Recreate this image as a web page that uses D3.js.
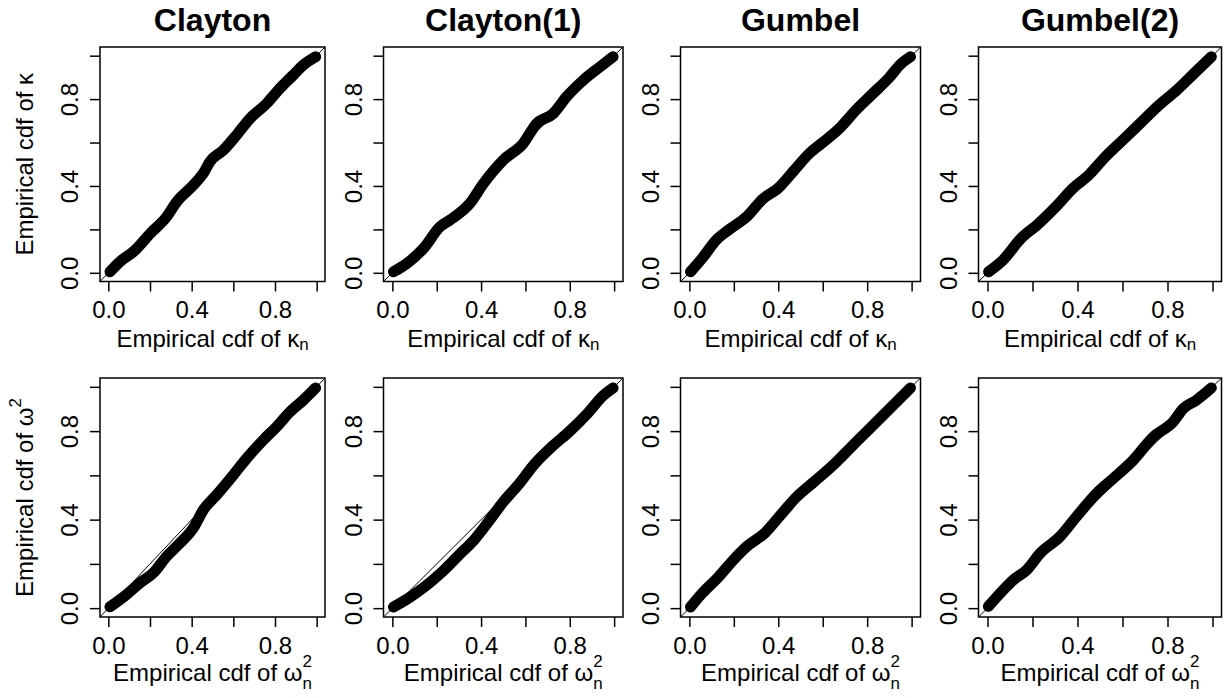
<!DOCTYPE html>
<meta charset="utf-8">
<style>
    body { margin: 0; background: #fff; }
    text { font-family: "Liberation Sans", Arial, sans-serif; fill: #000; }
    .box { fill: none; stroke: #000; stroke-width: 1.5; }
    .diag { stroke: #000; stroke-width: 1; }
    .ecdf { fill: none; stroke: #000; stroke-width: 11; stroke-linecap: round; stroke-linejoin: round; }
    .tick line { stroke: #000; stroke-width: 1.5; }
</style>
<body>
<script src="https://cdnjs.cloudflare.com/ajax/libs/d3/7.8.5/d3.min.js"></script>
<script>
    // column titles and tick values
    let titles = ["Clayton", "Clayton(1)", "Gumbel", "Gumbel(2)"];
    let tickValues = [0, 0.2, 0.4, 0.6, 0.8, 1.0];
    let tickLabels = ["0.0", "", "0.4", "", "0.8", ""];

    // ecdf curves, [x, y] pairs
    let claytonKappa = [[0.008, 0.005], [0.064, 0.058], [0.12, 0.097], [0.2, 0.18], [0.28, 0.258], [0.328, 0.327], [0.4, 0.396], [0.456, 0.458], [0.488, 0.512], [0.552, 0.565], [0.616, 0.635], [0.68, 0.711], [0.76, 0.78], [0.824, 0.85], [0.888, 0.911], [0.936, 0.957], [0.995, 0.995]];
    let clayton1Kappa = [[0.005, 0.005], [0.065, 0.043], [0.14, 0.112], [0.215, 0.212], [0.26, 0.243], [0.35, 0.32], [0.41, 0.41], [0.5, 0.519], [0.59, 0.596], [0.651, 0.688], [0.726, 0.734], [0.786, 0.811], [0.862, 0.888], [0.937, 0.949], [0.995, 0.995]];
    let gumbelKappa = [[0.005, 0.005], [0.06, 0.07], [0.12, 0.15], [0.18, 0.2], [0.26, 0.26], [0.33, 0.34], [0.4, 0.39], [0.47, 0.47], [0.54, 0.55], [0.6, 0.6], [0.68, 0.67], [0.75, 0.75], [0.82, 0.82], [0.9, 0.9], [0.95, 0.96], [0.995, 0.995]];
    let gumbel2Kappa = [[0.005, 0.005], [0.07, 0.06], [0.15, 0.16], [0.22, 0.22], [0.3, 0.3], [0.38, 0.39], [0.45, 0.45], [0.52, 0.53], [0.6, 0.61], [0.68, 0.69], [0.76, 0.77], [0.84, 0.84], [0.92, 0.92], [0.995, 0.995]];
    let claytonOmega = [[0.008, 0.006], [0.088, 0.062], [0.152, 0.114], [0.216, 0.159], [0.28, 0.234], [0.344, 0.294], [0.408, 0.362], [0.456, 0.444], [0.52, 0.512], [0.6, 0.602], [0.664, 0.677], [0.744, 0.76], [0.808, 0.82], [0.872, 0.887], [0.936, 0.94], [0.995, 0.995]];
    let clayton1Omega = [[0.005, 0.005], [0.08, 0.05], [0.15, 0.1], [0.22, 0.16], [0.3, 0.24], [0.37, 0.31], [0.44, 0.4], [0.5, 0.48], [0.57, 0.56], [0.64, 0.65], [0.72, 0.73], [0.8, 0.8], [0.88, 0.88], [0.95, 0.96], [0.995, 0.995]];
    let gumbelOmega = [[0.005, 0.005], [0.06, 0.07], [0.13, 0.14], [0.2, 0.22], [0.26, 0.28], [0.34, 0.34], [0.41, 0.42], [0.48, 0.5], [0.56, 0.57], [0.64, 0.64], [0.72, 0.72], [0.8, 0.8], [0.88, 0.88], [0.95, 0.95], [0.995, 0.995]];
    let gumbel2Omega = [[0.004, 0.008], [0.071, 0.083], [0.115, 0.128], [0.175, 0.173], [0.234, 0.248], [0.322, 0.323], [0.396, 0.414], [0.485, 0.519], [0.559, 0.586], [0.648, 0.669], [0.737, 0.774], [0.825, 0.842], [0.87, 0.902], [0.929, 0.94], [0.995, 0.995]];

    let curves = [
        [claytonKappa, clayton1Kappa, gumbelKappa, gumbel2Kappa],
        [claytonOmega, clayton1Omega, gumbelOmega, gumbel2Omega]
    ];

    // plot region boxes in pixels
    let colLeft = [100, 383.5, 680.5, 978.5],
        colRight = [325, 623, 920.5, 1221.5],
        rowTop = [47, 378],
        rowBottom = [281.5, 617],
        xTitleBase = [347, 681];

    let svg = d3.select("body").append("svg")
        .attr("width", 1225)
        .attr("height", 698);

    // x label with sub/superscripts
    function xLabel(sel, row) {
        let t = sel.append("text").attr("text-anchor", "middle").style("font-size", "24px");
        if (row == 0) {
            t.append("tspan").text("Empirical cdf of \u03BA");
            t.append("tspan").attr("dy", 3).style("font-size", "17px").text("n");
        } else {
            t.append("tspan").text("Empirical cdf of \u03C9");
            t.append("tspan").attr("dy", -14).style("font-size", "17px").text("2");
            t.append("tspan").attr("dx", -9.5).attr("dy", 22).style("font-size", "17px").text("n");
        }
        return t;
    }

    for (let r = 0; r < 2; r++) {
        for (let c = 0; c < 4; c++) {
            let x = d3.scaleLinear().domain([-0.04, 1.04]).range([colLeft[c], colRight[c]]);
            let y = d3.scaleLinear().domain([-0.04, 1.04]).range([rowBottom[r], rowTop[r]]);
            let g = svg.append("g");

            let clipId = "clip" + r + c;
            g.append("clipPath").attr("id", clipId)
                .append("rect")
                .attr("x", colLeft[c]).attr("y", rowTop[r])
                .attr("width", colRight[c] - colLeft[c])
                .attr("height", rowBottom[r] - rowTop[r]);

            g.append("line")
                .attr("class", "diag")
                .attr("clip-path", "url(#" + clipId + ")")
                .attr("x1", x(-0.04)).attr("y1", y(-0.04))
                .attr("x2", x(1.04)).attr("y2", y(1.04));

            let line = d3.line()
                .x(function(d) { return x(d[0]); })
                .y(function(d) { return y(d[1]); })
                .curve(d3.curveMonotoneX);

            g.append("path")
                .datum(curves[r][c])
                .attr("class", "ecdf")
                .attr("d", line);

            g.append("rect")
                .attr("class", "box")
                .attr("x", colLeft[c]).attr("y", rowTop[r])
                .attr("width", colRight[c] - colLeft[c])
                .attr("height", rowBottom[r] - rowTop[r]);

            let xAxis = g.append("g")
                .attr("transform", "translate(0," + rowBottom[r] + ")")
                .call(d3.axisBottom(x).tickValues(tickValues).tickSize(10).tickSizeOuter(0)
                    .tickFormat(function(d, i) { return tickLabels[i]; }));
            xAxis.select(".domain").remove();
            xAxis.selectAll("text")
                .attr("y", 36.5).attr("dy", null)
                .style("font-size", "24px").style("font-family", null);

            let yAxis = g.append("g")
                .attr("transform", "translate(" + colLeft[c] + ",0)")
                .call(d3.axisLeft(y).tickValues(tickValues).tickSize(10).tickSizeOuter(0)
                    .tickFormat(function(d, i) { return tickLabels[i]; }));
            yAxis.select(".domain").remove();
            yAxis.selectAll("text")
                .attr("transform", "rotate(-90)")
                .attr("x", 0).attr("y", -22).attr("dy", null)
                .attr("text-anchor", "middle")
                .style("font-size", "24px").style("font-family", null);
            yAxis.attr("font-family", null);
            xAxis.attr("font-family", null);

            xLabel(g, r).attr("x", (colLeft[c] + colRight[c]) / 2).attr("y", xTitleBase[r]);

            if (r == 0) {
                g.append("text")
                    .attr("x", (colLeft[c] + colRight[c]) / 2).attr("y", 31)
                    .attr("text-anchor", "middle")
                    .style("font-size", "32px").style("font-weight", "bold")
                    .text(titles[c]);
            }

            if (c == 0) {
                let cy = (rowTop[r] + rowBottom[r]) / 2;
                let yl = g.append("text")
                    .attr("transform", "translate(33," + cy + ") rotate(-90)")
                    .attr("text-anchor", "middle")
                    .style("font-size", "24px");
                if (r == 0) {
                    yl.text("Empirical cdf of \u03BA");
                } else {
                    yl.append("tspan").text("Empirical cdf of \u03C9");
                    yl.append("tspan").attr("dy", -12).style("font-size", "17px").text("2");
                }
            }
        }
    }
</script>
</body>
